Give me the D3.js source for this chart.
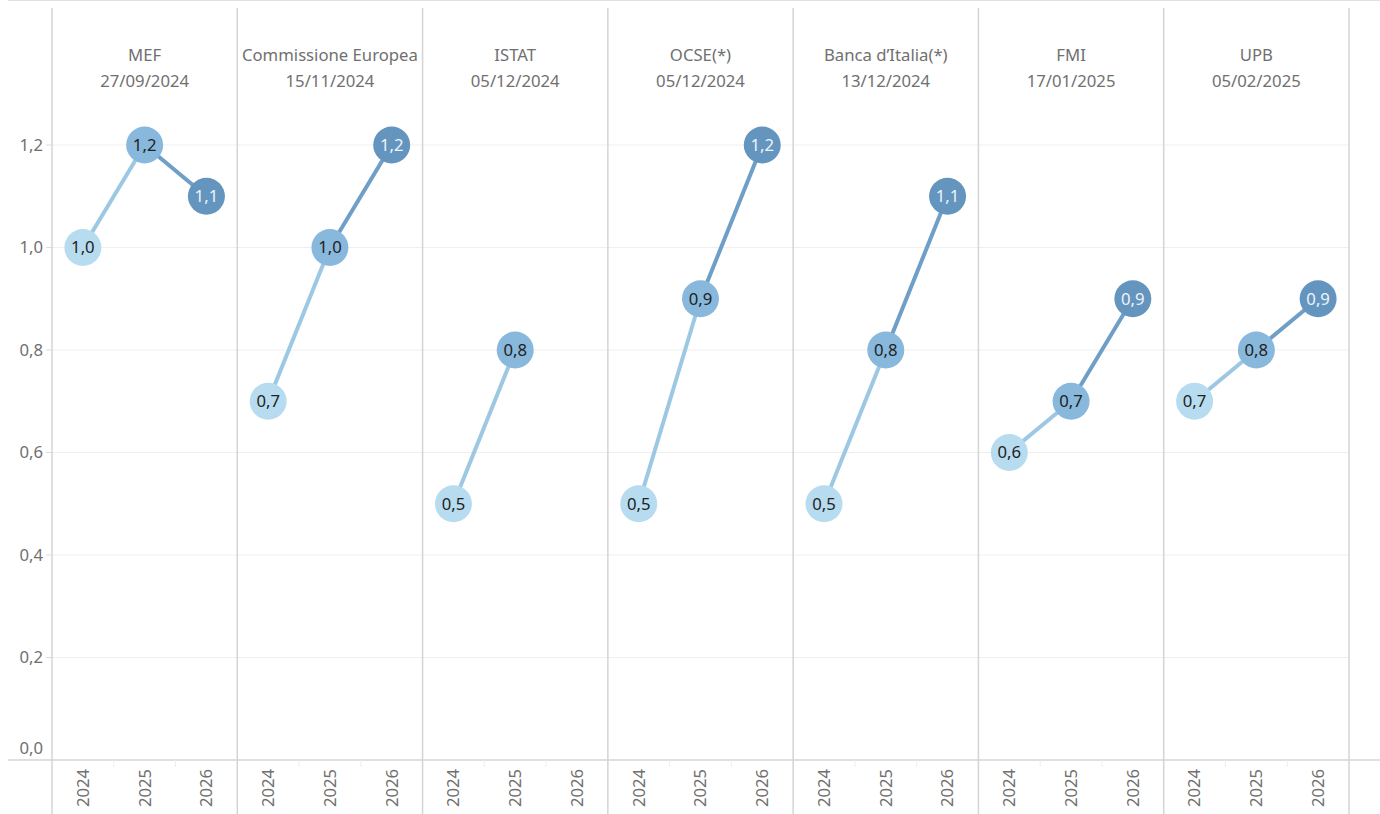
<!DOCTYPE html>
<html>
<head>
<meta charset="utf-8">
<script src="https://cdn.jsdelivr.net/npm/d3@7"></script>
<style>
  body { margin: 0; background: #fff; }
  svg { font-family: "Noto Sans", sans-serif; display: block; }
</style>
</head>
<body>
<svg width="1380" height="814"></svg>
<script>
// data
var sources = ["MEF", "Commissione Europea", "ISTAT", "OCSE(*)", "Banca d\u2019Italia(*)", "FMI", "UPB"];
var dates = ["27/09/2024", "15/11/2024", "05/12/2024", "05/12/2024", "13/12/2024", "17/01/2025", "05/02/2025"];
var years = ["2024", "2025", "2026"];
var v2024 = [1.0, 0.7, 0.5, 0.5, 0.5, 0.6, 0.7];
var v2025 = [1.2, 1.0, 0.8, 0.9, 0.8, 0.7, 0.8];
var v2026 = [1.1, 1.2, null, 1.2, 1.1, 0.9, 0.9];
var yTicks = [0, 0.2, 0.4, 0.6, 0.8, 1.0, 1.2];

var svg = d3.select("svg"),
    left = 52, right = 1349,
    top = 94, bottom = 760;

var fmt = function(v) { return d3.format(".1f")(v).replace(".", ","); };

var panel = d3.scaleBand().domain(sources).range([left, right]);
var x = d3.scaleBand().domain(years).range([0, panel.bandwidth()]);
var y = d3.scaleLinear().domain([0, 1.2]).range([bottom, 145]);

var circleCol = {"2024": "#b7dcf0", "2025": "#88b8db", "2026": "#6495bf"};
var lineCol = {"2025": "#9dc8e3", "2026": "#6f9ec7"};
var textCol = {"2024": "#222", "2025": "#222", "2026": "#eef3f8"};
var fs = "16.7px", grey = "#707070";

// gridlines
svg.append("g").selectAll("line")
    .data(yTicks.slice(1))
    .enter().append("line")
    .attr("x1", left).attr("x2", right)
    .attr("y1", function(d) { return y(d); })
    .attr("y2", function(d) { return y(d); })
    .attr("stroke", "#efefef").attr("stroke-width", 1);

// y axis labels + ticks
var ya = svg.append("g");
ya.selectAll("text").data(yTicks).enter().append("text")
    .attr("x", 43)
    .attr("y", function(d) { return d === 0 ? y(d) - 12 : y(d); })
    .attr("dy", "0.35em")
    .attr("text-anchor", "end")
    .attr("fill", grey).style("font-size", fs)
    .text(fmt);
ya.selectAll("line").data(yTicks.slice(1)).enter().append("line")
    .attr("x1", 46).attr("x2", left)
    .attr("y1", function(d) { return y(d); })
    .attr("y2", function(d) { return y(d); })
    .attr("stroke", "#ddd");

// frame lines
svg.append("line").attr("x1", 8).attr("x2", 1380).attr("y1", top).attr("y2", top)
    .attr("stroke", "#d4d4d4").attr("stroke-width", 1.5);
svg.append("line").attr("x1", 8).attr("x2", 1380).attr("y1", bottom).attr("y2", bottom)
    .attr("stroke", "#d4d4d4").attr("stroke-width", 1.5);
svg.append("g").selectAll("line")
    .data(sources.concat(["end"]))
    .enter().append("line")
    .attr("x1", function(d, i) { return left + i * panel.bandwidth(); })
    .attr("x2", function(d, i) { return left + i * panel.bandwidth(); })
    .attr("y1", 8).attr("y2", 814)
    .attr("stroke", "#d4d4d4").attr("stroke-width", 1.5);

// panels
sources.forEach(function(s, i) {
    var g = svg.append("g").attr("transform", "translate(" + panel(s) + ",0)");
    var vals = [v2024[i], v2025[i], v2026[i]];
    var pts = years.map(function(yr, j) { return {year: yr, v: vals[j]}; })
        .filter(function(d) { return d.v != null; });

    g.append("text").attr("x", panel.bandwidth() / 2).attr("y", 55)
        .attr("dy", "0.35em").attr("text-anchor", "middle")
        .attr("fill", grey).style("font-size", fs).text(s);
    g.append("text").attr("x", panel.bandwidth() / 2).attr("y", 81)
        .attr("dy", "0.35em").attr("text-anchor", "middle")
        .attr("fill", grey).style("font-size", fs).text(dates[i]);

    // small separators between years on the axis
    g.selectAll(".sep").data([1, 2]).enter().append("line")
        .attr("x1", function(d) { return d * x.step(); })
        .attr("x2", function(d) { return d * x.step(); })
        .attr("y1", bottom).attr("y2", bottom + 7)
        .attr("stroke", "#eee");

    g.selectAll(".yr").data(years).enter().append("text")
        .attr("transform", function(d) {
            return "translate(" + (x(d) + x.bandwidth() / 2) + "," + 788 + ") rotate(-90)";
        })
        .attr("dy", "0.35em").attr("text-anchor", "middle")
        .attr("fill", grey).style("font-size", fs).text(function(d) { return d; });

    for (var k = 1; k < pts.length; k++) {
        g.append("line")
            .attr("x1", x(pts[k - 1].year) + x.bandwidth() / 2)
            .attr("y1", y(pts[k - 1].v))
            .attr("x2", x(pts[k].year) + x.bandwidth() / 2)
            .attr("y2", y(pts[k].v))
            .attr("stroke", lineCol[pts[k].year]).attr("stroke-width", 4);
    }

    var c = g.selectAll(".pt").data(pts).enter().append("g")
        .attr("transform", function(d) {
            return "translate(" + (x(d.year) + x.bandwidth() / 2) + "," + y(d.v) + ")";
        });
    c.append("circle").attr("r", 18.5).attr("fill", function(d) { return circleCol[d.year]; });
    c.append("text").attr("dy", "0.35em").attr("text-anchor", "middle")
        .attr("fill", function(d) { return textCol[d.year]; })
        .style("font-size", fs).text(function(d) { return fmt(d.v); });
});
</script>
</body>
</html>
